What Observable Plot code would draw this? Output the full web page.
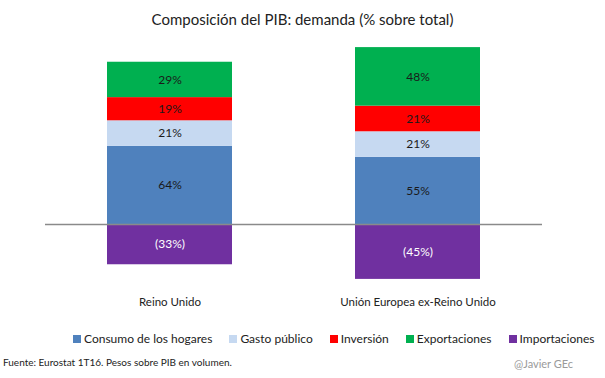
<!DOCTYPE html>
<html>
<head>
<meta charset="utf-8">
<script src="https://cdn.jsdelivr.net/npm/d3@7"></script>
<script src="https://cdn.jsdelivr.net/npm/@observablehq/plot@0.6"></script>
<style>
  html, body { margin: 0; padding: 0; background: #fff; }
  #wrap { position: relative; width: 605px; height: 378px; font-family: Lato, "Open Sans", sans-serif; color: #222; overflow: hidden; }
  #chart { position: absolute; left: 0; top: 0; }
  #title { position: absolute; left: 0; top: 10px; width: 605px; text-align: center; font-size: 15px; }
  #legend { position: absolute; left: 73px; top: 331px; display: flex; gap: 17px; font-size: 12px; white-space: nowrap; }
  #legend .item { display: flex; align-items: center; gap: 3px; }
  #legend .sw { width: 8px; height: 8px; display: inline-block; }
  #source { position: absolute; left: 3px; top: 356px; font-size: 10px; }
  #credit { position: absolute; left: 514px; top: 357px; font-size: 11px; color: #9a9a9a; }
</style>
</head>
<body>
<div id="wrap">
  <div id="chart"></div>
  <div id="title">Composición del PIB: demanda (% sobre total)</div>
  <div id="legend"></div>
  <div id="source">Fuente: Eurostat 1T16. Pesos sobre PIB en volumen.</div>
  <div id="credit">@Javier GEc</div>
</div>
<script>
const regions = ["Reino Unido", "Unión Europea ex-Reino Unido"];
const components = ["Consumo de los hogares", "Gasto público", "Inversión", "Exportaciones", "Importaciones"];
const reinoUnido = [64, 21, 19, 29, -33];
const ueExReinoUnido = [55, 21, 21, 48, -45];
const colors = ["#4F81BD", "#C6D9F1", "#FF0000", "#00B050", "#7030A0"];

const seriesByRegion = [reinoUnido, ueExReinoUnido];
const rows = [];
regions.forEach((r, i) => {
  components.forEach((c, j) => {
    rows.push({region: r, component: c, value: seriesByRegion[i][j]});
  });
});
const fmt = v => v < 0 ? `(${Math.abs(v)}%)` : `${v}%`;

const chart = Plot.plot({
  width: 605,
  height: 378,
  marginLeft: 45,
  marginRight: 63,
  marginTop: 41,
  marginBottom: 93,
  style: {fontFamily: "Lato, 'Open Sans', sans-serif", fontSize: "11.5px", color: "#222", background: "white"},
  x: {domain: regions, paddingInner: 0.497, paddingOuter: 0.25, label: null, tickSize: 0, tickPadding: 12},
  y: {domain: [-50, 150], axis: null},
  color: {domain: components, range: colors},
  marks: [
    Plot.barY(rows, Plot.stackY({x: "region", y: "value", fill: "component"})),
    Plot.ruleY([0], {stroke: "#8a8a8a", strokeWidth: 1.5}),
    Plot.text(rows, Plot.stackY({x: "region", y: "value", text: d => fmt(d.value),
      fill: d => d.component === "Importaciones" ? "white" : "#1a1a1a", fontSize: 12}))
  ]
});
document.getElementById("chart").appendChild(chart);

const legend = document.getElementById("legend");
components.forEach((c, i) => {
  const item = document.createElement("span");
  item.className = "item";
  const sw = document.createElement("span");
  sw.className = "sw";
  sw.style.background = colors[i];
  item.appendChild(sw);
  item.appendChild(document.createTextNode(c));
  legend.appendChild(item);
});
</script>
</body>
</html>
